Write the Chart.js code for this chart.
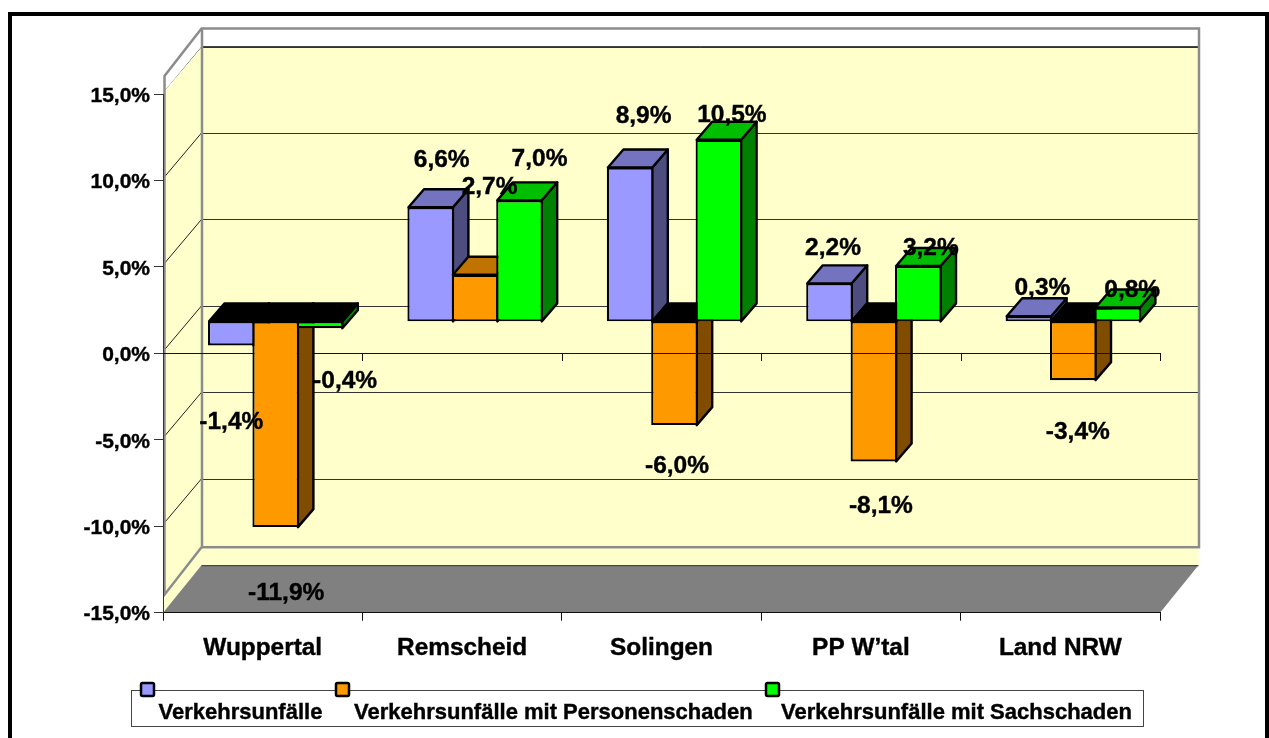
<!DOCTYPE html>
<html><head><meta charset="utf-8">
<style>html,body{margin:0;padding:0;background:#fff}canvas{display:block}</style>
<script src="https://cdn.jsdelivr.net/npm/chart.js@4"></script>
</head><body><canvas id="c" width="1269" height="738"></canvas>
<script>
const categories = ["Wuppertal","Remscheid","Solingen","PP W\u2019tal","Land NRW"];
const seriesNames = ["Verkehrsunf\u00e4lle","Verkehrsunf\u00e4lle mit Personenschaden","Verkehrsunf\u00e4lle mit Sachschaden"];
const unfaelle = [-1.4,6.6,8.9,2.2,0.3];
const personenschaden = [-11.9,2.7,-6.0,-8.1,-3.4];
const sachschaden = [-0.4,7.0,10.5,3.2,0.8];

const FONT = '"Liberation Sans", Arial, sans-serif';
const fmt = v => v.toFixed(1).replace('.',',');
const FRONT = ['#9999FF','#FF9900','#00FF00'];
const TOPC  = ['#7373BF','#BF7300','#00BF00'];
const SIDE  = ['#4D4D80','#804D00','#008000'];
const BAR_DX = 13, BAR_DEPTH_X = 15.5, BAR_DEPTH_Y = 18;
const WALL_DX = 38.5, WALL_DY = 47.5, WALL_LIFT = 18;
const TEXT_STROKE = 0.4;
// hand-placed label nudges (dx, dy from bar tip), per series then category
const NUDGE = [
 [[0,77],[11,-47],[13.5,-51],[3.5,-35],[13.5,-28]],
 [[10.5,66],[14.5,-87],[2.5,41],[7,45],[4.5,52]],
 [[25,53],[20,-41],[13,-24.5],[12.5,-18],[14.5,-17]]
];

function poly(ctx, pts, fill, stroke, lw){
  ctx.beginPath();
  pts.forEach((p,i)=> i?ctx.lineTo(p[0],p[1]):ctx.moveTo(p[0],p[1]));
  ctx.closePath();
  if(fill){ctx.fillStyle=fill;ctx.fill();}
  if(stroke){ctx.strokeStyle=stroke;ctx.lineWidth=lw||1;ctx.lineJoin='round';ctx.stroke();}
}
function line(ctx,x1,y1,x2,y2,c,w){ctx.beginPath();ctx.moveTo(x1,y1);ctx.lineTo(x2,y2);ctx.strokeStyle=c;ctx.lineWidth=w;ctx.stroke();}
function boldText(ctx,s,x,y){
  ctx.fillStyle='#000';ctx.fillText(s,x,y);
  ctx.strokeStyle='#000';ctx.lineWidth=TEXT_STROKE;ctx.strokeText(s,x,y);
}

function zeroAxis(chart, fromCat){
  const ctx=chart.ctx,a=chart.chartArea;
  const z=Math.round(chart.scales.y.getPixelForValue(0));
  const w=(a.right-a.left)/categories.length;
  line(ctx,a.left+w*fromCat,z+.5,a.right,z+.5,'#111',1);
  for(let i=Math.max(fromCat,1);i<=categories.length;i++){
    const x=Math.round(a.left+w*i)+.5;
    line(ctx,x,z,x,z+8,'#111',1);
  }
}

const scene = {
  id:'scene',
  beforeDraw(chart){
    const ctx=chart.ctx, a=chart.chartArea, y=chart.scales.y;
    const L=a.left,R=a.right,T=a.top,B=a.bottom;
    ctx.save();
    ctx.fillStyle='#fff';ctx.fillRect(0,0,chart.width,chart.height);
    // page frame
    ctx.fillStyle='#000';
    ctx.fillRect(8,12,1261,4);ctx.fillRect(8,12,4,726);ctx.fillRect(1265,12,4,726);
    const bl=L+WALL_DX, br=R+WALL_DX;
    // back wall and side wall
    poly(ctx,[[bl,T-WALL_DY],[br,T-WALL_DY],[br,B-WALL_DY],[bl,B-WALL_DY]],'#FFFFCC');
    poly(ctx,[[L,T],[bl,T-WALL_DY],[bl,B-WALL_DY],[L,B]],'#FFFFCC');
    // floor
    poly(ctx,[[L,B],[bl,B-WALL_DY],[br,B-WALL_DY],[R,B]],'#808080');
    line(ctx,bl,B-WALL_DY+.5,br,B-WALL_DY+.5,'#333',1);
    // grid
    y.ticks.forEach(t=>{
      const p=y.getPixelForValue(t.value);
      if(t.value>-15){
        line(ctx,L+1,p-3,bl,p-WALL_DY,'#222',1);
        line(ctx,bl,Math.round(p-WALL_DY)+.5,br,Math.round(p-WALL_DY)+.5,'#333',1);
      }
    });
    // grey wall outline, lifted above the grid
    const wt=T-WALL_DY-WALL_LIFT, wb=B-WALL_DY-WALL_LIFT, sx=L+1.5;
    poly(ctx,[[sx,T-WALL_LIFT],[bl,wt],[bl,T-WALL_DY],[sx,T-3]],'#fff');
    ctx.fillStyle='#fff';
    ctx.fillRect(bl,wt,br-bl,WALL_LIFT);
    line(ctx,L+WALL_DX+.5,T-WALL_DY,br,T-WALL_DY,'#444',1);
    ctx.lineWidth=2.5;ctx.strokeStyle='#8c8c8c';ctx.lineJoin='miter';
    ctx.strokeRect(bl+.5,wt,br-bl,wb-wt);
    ctx.beginPath();
    ctx.moveTo(bl,wt);ctx.lineTo(sx,T-WALL_LIFT);ctx.lineTo(sx,B-WALL_LIFT);ctx.lineTo(bl,wb);
    ctx.stroke();
    ctx.restore();
  },
  // Excel-style painter order: left series first, so each bar covers the depth of its left neighbour.
  beforeDatasetsDraw(chart){
    const ctx=chart.ctx;
    zeroAxis(chart,0);
    ctx.save();
    ctx.translate(BAR_DX,0);
    chart.data.datasets.forEach((ds,i)=>{
      const meta=chart.getDatasetMeta(i);
      meta.data.forEach(el=>{
        const {x,y,base,width}=el.getProps(['x','y','base','width'],true);
        const l=x-width/2+1.1,r=x+width/2-1.1,t=Math.min(y,base),b=Math.max(y,base);
        const neg=y>base;
        const dx=BAR_DEPTH_X,dy=BAR_DEPTH_Y;
        poly(ctx,[[r,t],[r+dx,t-dy],[r+dx,b-dy],[r,b]],SIDE[i],'#000',2.4);
        poly(ctx,[[l,t],[l+dx,t-dy],[r+dx,t-dy],[r,t]],neg?'#000':TOPC[i],'#000',2.4);
      });
      meta.controller.draw();
    });
    ctx.restore();
    zeroAxis(chart,1);

    // data labels
    ctx.save();
    ctx.font='bold 24.5px '+FONT;ctx.textAlign='center';ctx.textBaseline='middle';
    chart.data.datasets.forEach((ds,i)=>{
      chart.getDatasetMeta(i).data.forEach((el,j)=>{
        const n=NUDGE[i][j];
        boldText(ctx,fmt(ds.data[j])+'%',el.x+BAR_DX+n[0],el.y+n[1]);
      });
    });
    // legend
    ctx.fillStyle='#fff';ctx.fillRect(131.5,690.5,1012,36);
    ctx.strokeStyle='#444';ctx.lineWidth=1;ctx.strokeRect(131.5,690.5,1012,36);
    const mx=[140,335,765], tx=[158.5,354,781];
    ctx.font='bold 22px '+FONT;ctx.textAlign='left';
    chart.data.datasets.forEach((ds,i)=>{
      ctx.beginPath();ctx.roundRect(mx[i]+1,683,13,13,1.5);
      ctx.fillStyle=FRONT[i];ctx.fill();ctx.strokeStyle='#000';ctx.lineWidth=2.5;ctx.stroke();
      boldText(ctx,ds.label,tx[i],713);
    });
    ctx.restore();
    return false;
  }
};

const mk=(i,data)=>({label:seriesNames[i],data,backgroundColor:FRONT[i],borderColor:'#000',borderWidth:2.2,borderSkipped:false,
  yAxisID:'yBars',xAxisID:'x',clip:false,categoryPercentage:0.668,barPercentage:1.05});

new Chart(document.getElementById('c'),{
  type:'bar',
  data:{labels:categories,datasets:[mk(0,unfaelle),mk(1,personenschaden),mk(2,sachschaden)]},
  plugins:[scene],
  options:{
    responsive:false,animation:false,
    layout:{padding:{top:94,left:0,right:109,bottom:65.3}},
    plugins:{legend:{display:false},tooltip:{enabled:false}},
    scales:{
      x:{type:'category',position:'bottom',afterFit:s=>{s.height=60;},
        grid:{offset:true,drawOnChartArea:false,color:'#111',tickLength:8},
        border:{color:'#111',width:1},
        ticks:{color:'#000',padding:13,maxRotation:0,autoSkip:false,textStrokeColor:'#000',textStrokeWidth:TEXT_STROKE,font:{family:FONT,size:24.4,weight:'bold'}}},
      y:{position:'left',min:-15,max:15,afterFit:s=>{s.width=163;},
        grid:{drawOnChartArea:false,color:'#333',tickLength:9},
        border:{color:'#333',width:1},
        ticks:{stepSize:5,color:'#000',padding:4,labelOffset:2,textStrokeColor:'#000',textStrokeWidth:TEXT_STROKE,font:{family:FONT,size:21,weight:'bold'},callback:v=>fmt(v)+'%'}},
      yBars:{display:false,position:'right',min:-16.85,max:13.15}
    }
  }
});
</script></body></html>
